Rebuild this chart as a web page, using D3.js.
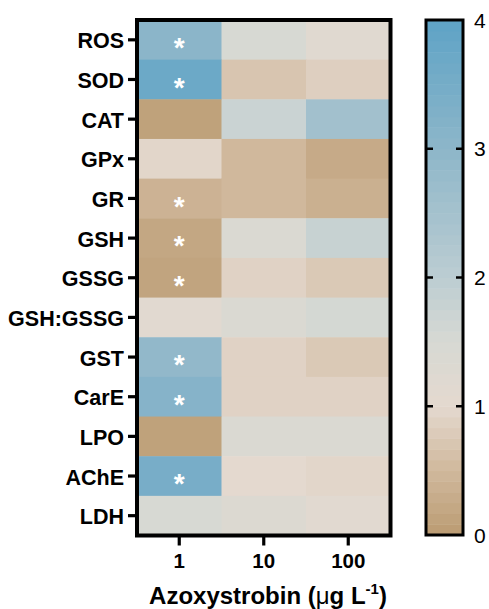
<!DOCTYPE html>
<html><head><meta charset="utf-8">
<script src="https://cdn.jsdelivr.net/npm/d3@7"></script>
<style>body{margin:0;background:#fff}svg{display:block}text{font-family:"Liberation Sans",Arial,sans-serif}</style>
</head><body><svg id="c" width="489" height="609"></svg>
<script>
const rows = ["ROS","SOD","CAT","GPx","GR","GSH","GSSG","GSH:GSSG","GST","CarE","LPO","AChE","LDH"];
const cols = ["1","10","100"];
const conc1   = [3.05,3.7,0.1,0.95,0.4,0.2,0.15,1.1,2.9,3.15,0.1,3.45,1.5];
const conc10  = [1.5,0.7,1.75,0.5,0.5,1.4,0.9,1.4,0.9,0.9,1.4,1.0,1.3];
const conc100 = [1.15,0.85,2.55,0.25,0.35,1.8,0.75,1.55,0.75,0.9,1.4,0.95,1.1];
const signif  = [1,1,0,0,1,1,1,0,1,1,0,1,0];
const colorTicks = [0,1,2,3,4];
const colorStops = [0,0.5,1,1.5,2,3,4];
const colorRange = ["#bb9c73","#d0b89c","#e4d9cf","#d7d9d3","#bccdd2","#8db6c9","#5ea3c6"];

const series = [conc1, conc10, conc100];
const cells = [];
rows.forEach((r,i)=>cols.forEach((c,j)=>cells.push({r,c,v:series[j][i],s:j===0&&signif[i]})));

const svg = d3.select("#c");
const x = d3.scaleBand().domain(cols).range([137,390.5]);
const y = d3.scaleBand().domain(rows).range([20,535.5]);
const color = d3.scaleLinear().domain(colorStops).range(colorRange).interpolate(d3.interpolateRgb);

svg.append("g").selectAll("rect").data(cells).join("rect")
  .attr("x",d=>x(d.c)).attr("y",d=>y(d.r))
  .attr("width",x.bandwidth()+0.5).attr("height",y.bandwidth()+0.5)
  .attr("fill",d=>color(d.v));

svg.append("g").selectAll("text").data(cells.filter(d=>d.s)).join("text")
  .attr("x",d=>x(d.c)+x.bandwidth()/2).attr("y",d=>y(d.r)+y.bandwidth()/2)
  .attr("dy","0.62em").attr("text-anchor","middle")
  .attr("fill","#fff").attr("font-size",28).attr("font-weight","bold").text("*");

svg.append("rect").attr("x",137).attr("y",20).attr("width",253.5).attr("height",515.5)
  .attr("fill","none").attr("stroke","#000").attr("stroke-width",4);

// y axis
const ya = svg.append("g").attr("transform","translate(137,0)")
  .call(d3.axisLeft(y).tickSize(9).tickPadding(4));
ya.select(".domain").remove();
ya.selectAll(".tick line").attr("stroke-width",3.2).attr("stroke","#000");
ya.selectAll(".tick text").attr("font-size",21.5).attr("font-weight","bold").attr("fill","#000")
  .attr("font-family","'Liberation Sans',Arial,sans-serif").attr("dy","0.4em");

// x axis
const xa = svg.append("g").attr("transform","translate(0,535.5)")
  .call(d3.axisBottom(x).tickSize(10).tickPadding(8));
xa.select(".domain").remove();
xa.selectAll(".tick line").attr("stroke-width",3.2).attr("stroke","#000");
xa.selectAll(".tick text").attr("font-size",20.5).attr("font-weight","bold").attr("fill","#000")
  .attr("font-family","'Liberation Sans',Arial,sans-serif");

const title = svg.append("text").attr("x",268).attr("y",604).attr("text-anchor","middle")
  .attr("font-size",24).attr("font-weight","bold");
title.append("tspan").text("Azoxystrobin (");
title.append("tspan").attr("font-weight","normal").text("μ");
title.append("tspan").text("g L");
title.append("tspan").attr("font-size",15).attr("dy",-10).text("-1");
title.append("tspan").attr("dy",10).text(")");

// color bar
const cb = svg.append("g");
const cy = d3.scaleLinear().domain([0,4]).range([535,20]);
const nb = 48;
const bands = d3.range(nb).map(i=>({a:4*i/nb,b:4*(i+1)/nb}));
cb.selectAll("rect.b").data(bands).join("rect").attr("class","b")
  .attr("x",426).attr("width",37).attr("y",d=>cy(d.b)).attr("height",d=>cy(d.a)-cy(d.b)+0.5)
  .attr("fill",d=>color((d.a+d.b)/2));
cb.append("rect").attr("x",426).attr("y",20).attr("width",37).attr("height",515)
  .attr("fill","none").attr("stroke","#000").attr("stroke-width",3);
cb.selectAll("line.l").data(colorTicks.slice(1,4)).join("line").attr("class","l")
  .attr("x1",426).attr("x2",433).attr("y1",d=>cy(d)).attr("y2",d=>cy(d)).attr("stroke","#000").attr("stroke-width",2.5);
cb.selectAll("line.r").data(colorTicks.slice(1,4)).join("line").attr("class","r")
  .attr("x1",456).attr("x2",463).attr("y1",d=>cy(d)).attr("y2",d=>cy(d)).attr("stroke","#000").attr("stroke-width",2.5);
cb.selectAll("text").data(colorTicks).join("text")
  .attr("x",474).attr("y",d=>cy(d)).attr("dy","0.36em").attr("font-size",21).attr("fill","#000").text(d=>d);
</script></body></html>
